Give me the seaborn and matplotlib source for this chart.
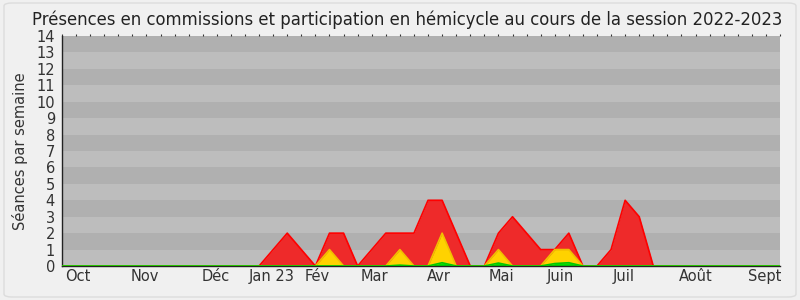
import numpy as np
import pandas as pd
import matplotlib
matplotlib.use("Agg")
import matplotlib.pyplot as plt
import seaborn as sns
from matplotlib.patches import FancyBboxPatch

# ---- data (weekly index 0..51) ----
weeks = list(range(52))
red_vals = [0]*14 + [0, 1, 2, 1, 0, 2, 2, 0, 1, 2, 2, 2, 4, 4, 2, 0,
                     0, 2, 3, 2, 1, 1, 2, 0, 0, 1, 4, 3, 0] + [0]*9
yellow_vals = [0]*18 + [0, 1, 0, 0, 0, 0, 1, 0, 0, 2, 0, 0,
                        0, 1, 0, 0, 0, 1, 1, 0] + [0]*14
green_vals = [0]*24 + [0.05, 0, 0, 0.2, 0, 0, 0, 0.18, 0, 0, 0, 0.15, 0.2, 0] + [0]*14

month_labels = ["Oct", "Nov", "Déc", "Jan 23", "Fév", "Mar", "Avr", "Mai", "Juin", "Juil", "Août", "Sept"]
month_pos = [1.15, 5.9, 10.9, 14.9, 18.1, 22.2, 26.8, 31.2, 35.4, 39.9, 45.05, 49.9]
y_ticks = list(range(15))

df = pd.DataFrame({"week": weeks, "red": red_vals, "yellow": yellow_vals, "green": green_vals})

sns.set_theme(style="white")
plt.rcParams['font.family'] = ['DejaVu Sans']

fig = plt.figure(figsize=(8, 3), dpi=100)
fig.patch.set_facecolor("#f0f0f0")
fig.patches.append(FancyBboxPatch((0.005, 0.01), 0.99, 0.98, boxstyle="round,pad=0,rounding_size=0.01",
                                  transform=fig.transFigure, facecolor="#f0f0f0", edgecolor="#dcdcdc",
                                  linewidth=1, zorder=-10))
ax = fig.add_axes([0.0775, 0.1133, 0.8975, 0.7667])
ax.set_facecolor("#bdbdbd")

# alternating bands
for i in range(14):
    ax.axhspan(i, i + 1, color="#bdbdbd" if i % 2 == 0 else "#b0b0b0", lw=0, zorder=0)

layers = [("red", "#ee2a2a", "#ff0000"), ("yellow", "#ffd200", "#f0c000"), ("green", "#00e000", "#00c800")]
for col, fill, edge in layers:
    ax.fill_between(df["week"], 0, df[col], color=fill, lw=0, zorder=2)
    sns.lineplot(data=df, x="week", y=col, ax=ax, color=edge, lw=1.2, zorder=3)

ax.set_xlim(0, 51)
ax.set_ylim(0, 14)
ax.set_xticks(weeks)
ax.set_xticklabels([])
ax.set_xticks(month_pos, minor=True)
ax.set_xticklabels(month_labels, minor=True)
ax.tick_params(axis="x", which="major", length=5, width=1, color="#333333", direction="out")
ax.tick_params(axis="x", which="minor", length=0, pad=2, labelsize=10.5, labelcolor="#333333")
ax.set_yticks(y_ticks)
ax.set_yticklabels([str(v) for v in y_ticks])
ax.tick_params(axis="y", length=4, width=1, color="#333333", labelsize=10.5, labelcolor="#333333", pad=1)
ax.set_xlabel("")
ax.set_ylabel("Séances par semaine", fontsize=10.5, color="#333333", labelpad=6)

for s in ["top", "right"]:
    ax.spines[s].set_visible(False)
for s in ["left", "bottom"]:
    ax.spines[s].set_color("#222222")
    ax.spines[s].set_linewidth(1)

sec = ax.secondary_xaxis("top")
sec.set_xticks(weeks)
sec.set_xticklabels([])
sec.tick_params(length=1.5, width=0.8, color="#333333")
sec.spines["top"].set_visible(False)

fig.text(0.509, 0.965, "Présences en commissions et participation en hémicycle au cours de la session 2022-2023",
         ha="center", va="top", fontsize=11.9, color="#222222")

fig.savefig("out.png", dpi=100, facecolor=fig.get_facecolor())
